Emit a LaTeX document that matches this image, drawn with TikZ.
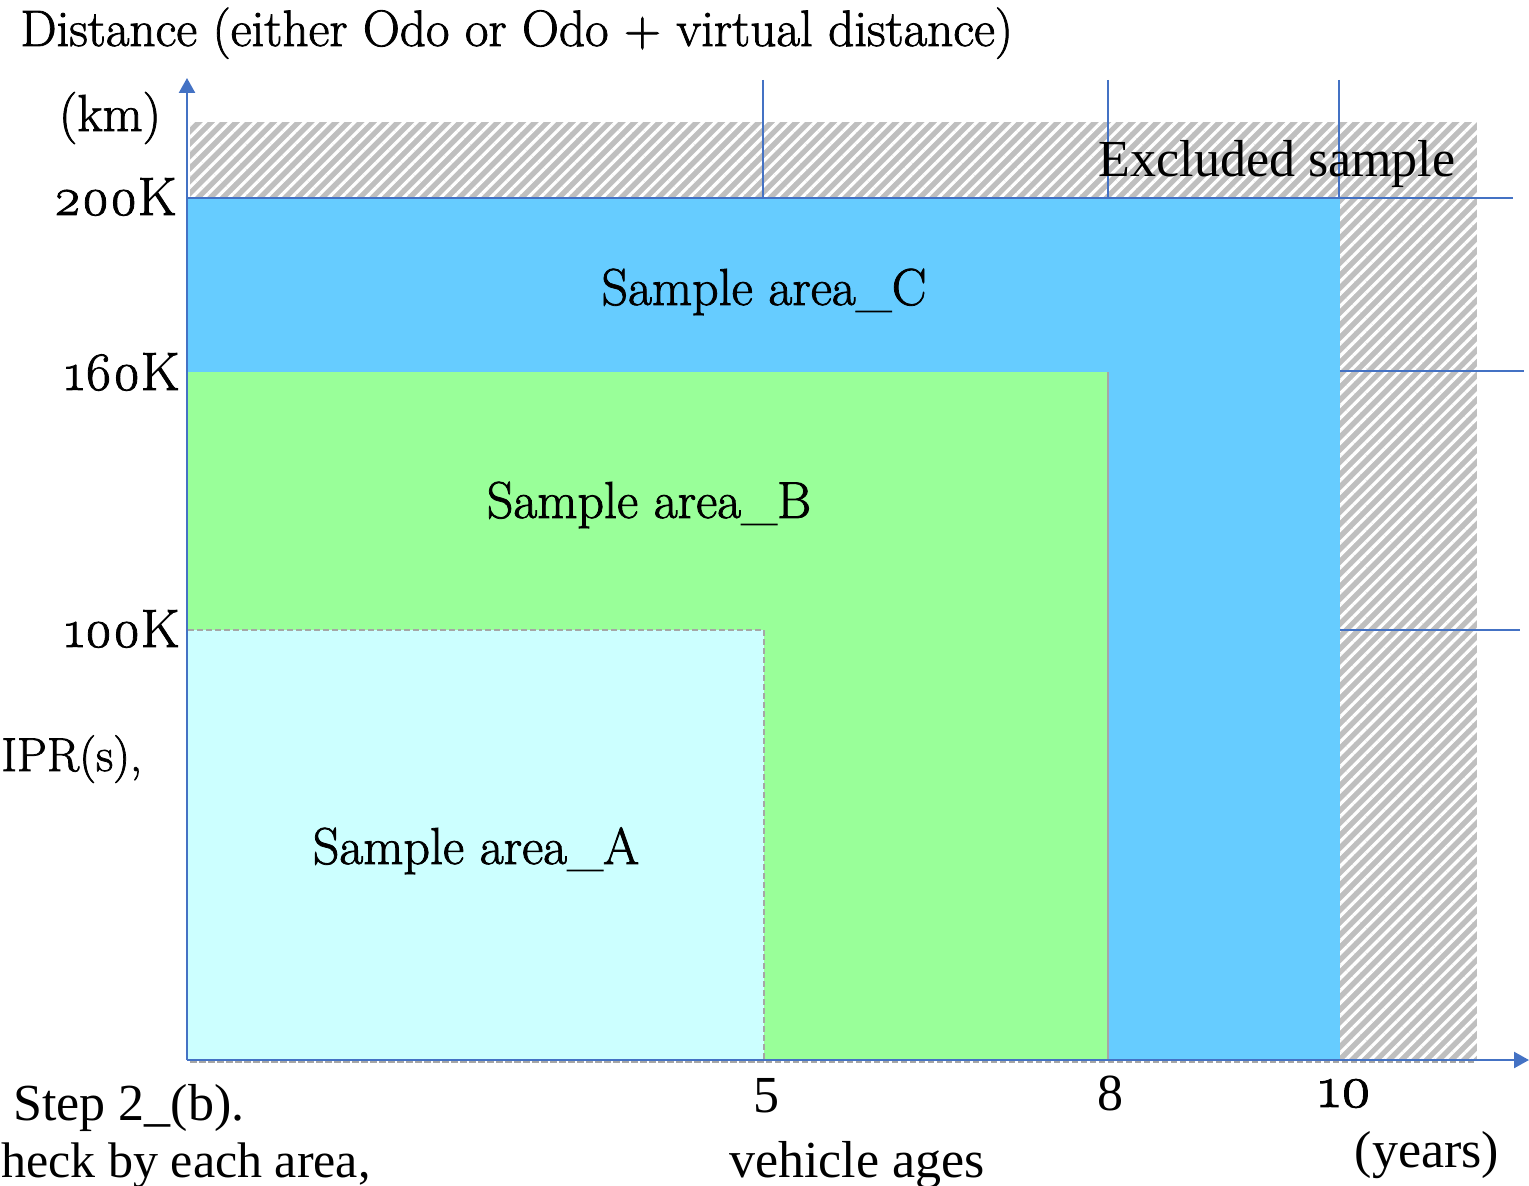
\documentclass[tikz,border=0pt]{standalone}
\usepackage{fontspec}
\setmainfont{Latin Modern Roman}[Numbers=OldStyle]
\newfontface\serifos{Latin Modern Roman}[Numbers=OldStyle,FakeBold=1.5]
\newfontfamily\timesfont{Liberation Serif}
\usetikzlibrary{arrows.meta,patterns.meta}

\definecolor{axisblue}{HTML}{4472C4}
\definecolor{areaC}{HTML}{66CCFF}
\definecolor{areaB}{HTML}{99FF99}
\definecolor{areaA}{HTML}{CCFFFF}
\definecolor{hatchgray}{HTML}{BFBFBF}
\definecolor{edgegray}{HTML}{A6A6A6}

\tikzset{
  lab/.style={inner sep=0pt, font=\serifos\fontsize{26}{30}\selectfont},
  tlab/.style={inner sep=0pt, font=\timesfont\fontsize{26}{30}\selectfont},
  ticklab/.style={inner sep=0pt, font=\serifos\fontsize{27}{30}\selectfont},
  grid line/.style={draw=axisblue, line width=0.6pt},
  axis line/.style={draw=axisblue, line width=1.2pt, -{Triangle[width=8pt,length=7.5pt]}},
  area edge/.style={draw=edgegray, line width=0.6pt, dashed, dash pattern=on 3pt off 1.5pt},
  hatched/.style={fill=hatchgray},
  hatch lines/.style={pattern={Lines[angle=45,distance=4.4pt,line width=1.6pt]}, pattern color=white}
}

\begin{document}
\begin{tikzpicture}[x=0.5pt,y=-0.5pt]
\useasboundingbox (0,0) rectangle (1529,1186);

% excluded band (top strip and right column)
\fill[hatched] (190,122) rectangle (1477,1060);
\fill[hatch lines] (190,122) rectangle (1477,1060);
\draw[area edge] (190,1062) -- (1477,1062);

% sample areas
\fill[areaC] (188,198) rectangle (1340,1060);
\fill[areaB] (188,372) rectangle (1108,1060);
\draw[edgegray, line width=0.6pt] (1108,372) -- (1108,1060);
\fill[areaA] (188,630) rectangle (764,1060);
\draw[area edge] (188,630) -- (764,630) -- (764,1062) -- (188,1062);

% reference lines
\coordinate (g5t) at (763,80);   \coordinate (g5b) at (763,198);
\coordinate (g8t) at (1108,80);  \coordinate (g8b) at (1108,198);
\coordinate (g10t) at (1339,80); \coordinate (g10b) at (1339,198);
\coordinate (h200l) at (187,198); \coordinate (h200r) at (1513,198);
\coordinate (h160l) at (1340,371); \coordinate (h160r) at (1524,371);
\coordinate (h100l) at (1340,630); \coordinate (h100r) at (1520,630);
\draw[grid line] (g5t) -- (g5b);
\draw[grid line] (g8t) -- (g8b);
\draw[grid line] (g10t) -- (g10b);
\draw[grid line] (h200l) -- (h200r);
\draw[grid line] (h160l) -- (h160r);
\draw[grid line] (h100l) -- (h100r);

% axes
\coordinate (origin) at (187,1060);
\coordinate (ytip) at (187,78);
\coordinate (xtip) at (1529,1060);
\draw[axis line] (origin) -- (ytip);
\draw[axis line] (origin) -- (xtip);

% labels
\node[lab, anchor=base west, font=\serifos\fontsize{25.6}{30}\selectfont] (title) at (20,46) {Distance (either Odo or Odo + virtual distance)};
\node[lab, anchor=base] (km) at (110,131) {(km)};
\node[ticklab, anchor=base east] (t200) at (177,215) {200K};
\node[ticklab, anchor=base east] (t160) at (180,390) {160K};
\node[ticklab, anchor=base east] (t100) at (180,647) {100K};
\node[tlab, anchor=base] (excl) at (1277,177) {Excluded sample};
\node[lab, anchor=base] (areaCl) at (764,305) {Sample area\_C};
\node[lab, anchor=base] (areaBl) at (649,518) {Sample area\_B};
\node[lab, anchor=base] (areaAl) at (476,864) {Sample area\_A};
\node[lab, anchor=base west, font=\serifos\fontsize{23.8}{30}\selectfont] (ipr) at (1,771) {IPR(s),};
\node[tlab, anchor=base west] (step) at (13,1120) {Step 2\_(b).};
\node[tlab, anchor=base west, font=\timesfont\fontsize{25}{30}\selectfont] (check) at (1,1177) {heck by each area,};
\node[tlab, anchor=base] (x5) at (766,1112) {5};
\node[tlab, anchor=base] (x8) at (1110,1110) {8};
\node[lab, anchor=base, font=\serifos\fontsize{30}{34}\selectfont] (x10) at (1345,1107) {10};
\node[tlab, anchor=base] (vage) at (857,1177) {vehicle ages};
\node[tlab, anchor=base] (years) at (1427,1167) {(years)};
\end{tikzpicture}
\end{document}
